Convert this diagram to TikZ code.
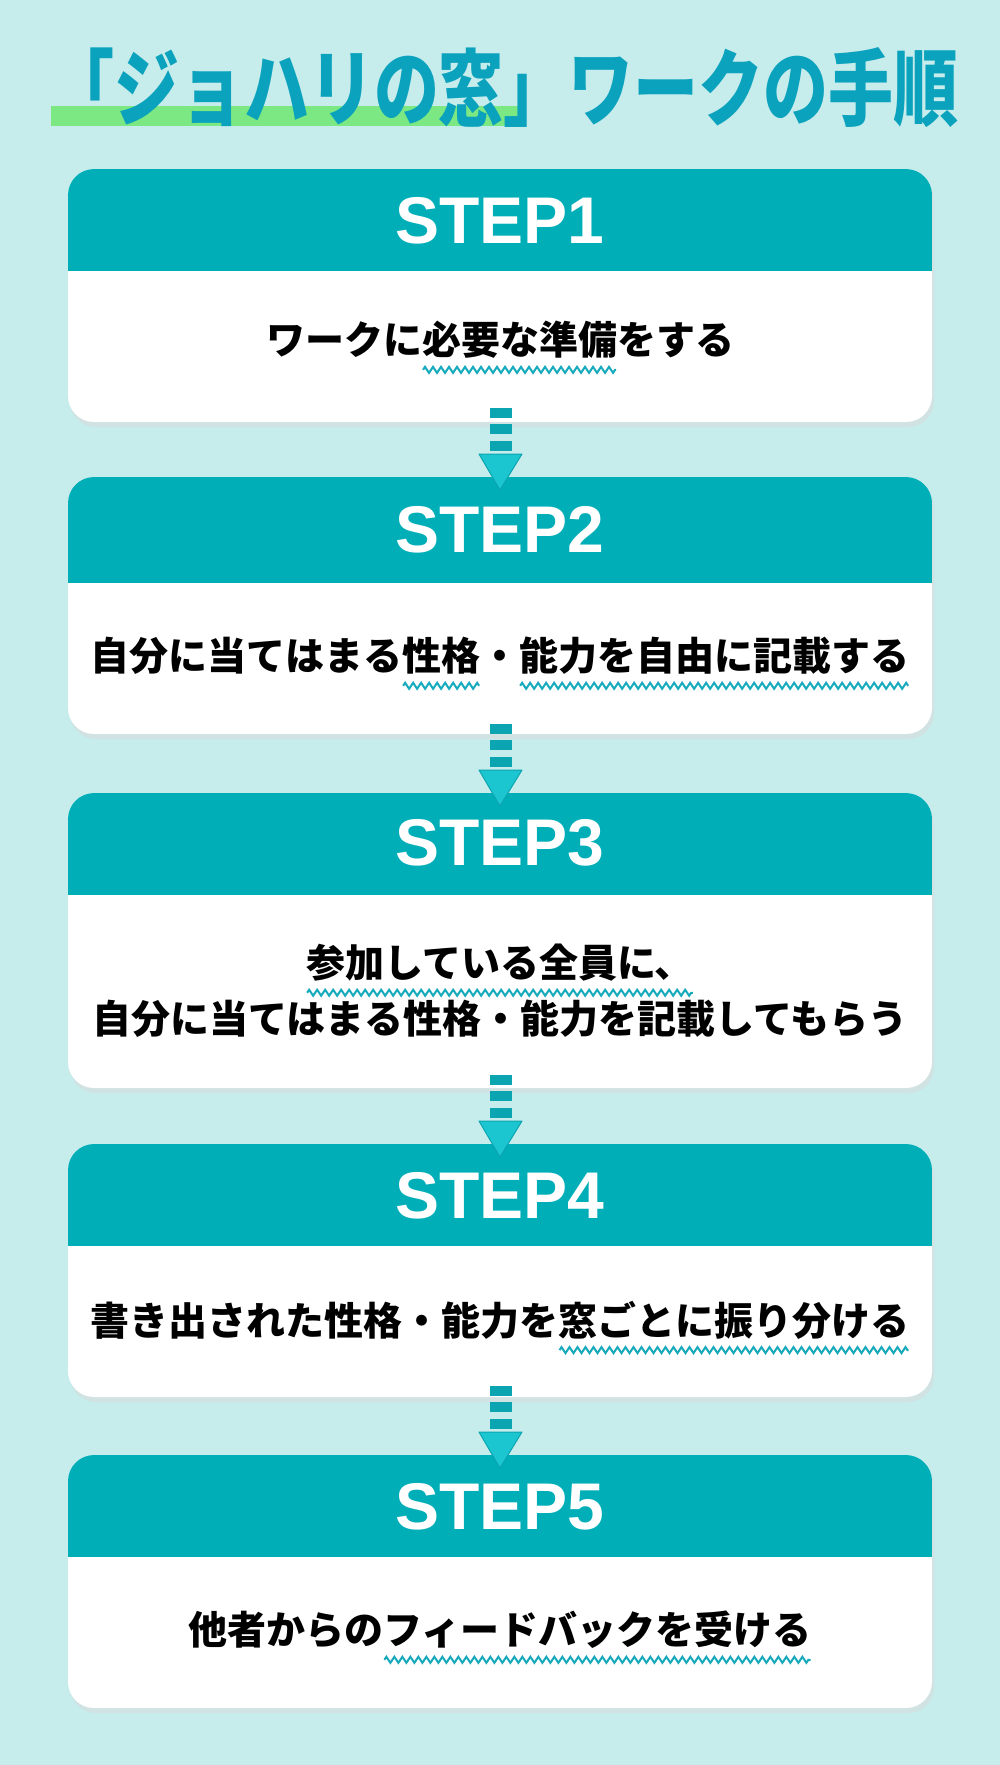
\documentclass[tikz,border=0pt]{standalone}
\usepackage{fontspec}
\setmainfont{Noto Sans CJK JP}
\newfontfamily\stepfont{Liberation Sans}
\usetikzlibrary{decorations.pathmorphing}
\definecolor{bg}{HTML}{C7ECEC}
\definecolor{teal}{HTML}{00AEB8}
\definecolor{titlec}{HTML}{0AA2BC}
\definecolor{hl}{HTML}{7CE883}
\definecolor{wavec}{HTML}{17A9BC}
\definecolor{arrowc}{HTML}{1CC6D0}
\definecolor{arrowd}{HTML}{0AA5B0}
\newsavebox\wvbox
\newcommand\wv[1]{\sbox\wvbox{#1}\leavevmode\rlap{\usebox\wvbox}%
\tikz[overlay,x=1pt,y=1pt,baseline=0pt]\draw[wavec,line width=2pt,decorate,decoration={zigzag,amplitude=3pt,segment length=8pt}] (1,-15)--(\wd\wvbox-1pt,-15);%
\hspace*{\wd\wvbox}}
\tikzset{
  bodytxt/.style={font=\bfseries\fontsize{39}{56}\selectfont,text=black,align=center,inner sep=0pt},
  steptxt/.style={font=\stepfont\bfseries\fontsize{66}{66}\selectfont,text=white,inner sep=0pt},
}
\newcommand\stepbox[4]{% name, top, headbottom, bottom
  \fill[black!15,opacity=.5,rounded corners=26pt] (70,#2+5) rectangle (934,#4+5);
  \fill[white,rounded corners=26pt] (68,#2) rectangle (932,#4);
  \begin{scope}
  \clip[rounded corners=26pt] (68,#2) rectangle (932,#4);
  \fill[teal] (68,#2) rectangle (932,#3);
  \end{scope}
  \coordinate (#1) at (500,#2);
}
\newcommand\arrowto[1]{% top of next box
  \foreach \d in {0,16,33}{\fill[arrowd] (490,#1-69+\d) rectangle (512,#1-59+\d);}
  \fill[arrowc,draw=arrowd,line width=1pt,line join=round] (479,#1-23) -- (522,#1-23) -- (500,#1+13) -- cycle;
}
\begin{document}
\begin{tikzpicture}[x=1pt,y=-1pt]
\fill[bg] (0,0) rectangle (1000,1765);
\useasboundingbox (0,0) rectangle (1000,1765);
% title
\fill[hl] (51,106) rectangle (523,126);
\node[font=\bfseries\fontsize{75}{75}\selectfont,text=titlec,inner sep=0pt] (title) at (504,88) {\resizebox{910pt}{72pt}{「ジョハリの窓」ワークの手順}};
% boxes
\stepbox{b1}{169}{271}{422}
\stepbox{b2}{477}{583}{734}
\stepbox{b3}{793}{895}{1088}
\stepbox{b4}{1144}{1246}{1397}
\stepbox{b5}{1455}{1557}{1708}
\node[steptxt] (s1) at (500,221) {STEP1};
\node[steptxt] (s2) at (500,530) {STEP2};
\node[steptxt] (s3) at (500,843) {STEP3};
\node[steptxt] (s4) at (500,1196) {STEP4};
\node[steptxt] (s5) at (500,1507) {STEP5};
\node[bodytxt] (t1) at (500,340) {ワークに\wv{必要な準備}をする};
\node[bodytxt] (t2) at (500,656) {自分に当てはまる\wv{性格}・\wv{能力を自由に記載する}};
\node[bodytxt] (t3) at (500,991) {\wv{参加している全員に、}\\自分に当てはまる性格・能力を記載してもらう};
\node[bodytxt] (t4) at (500,1320) {書き出された性格・能力を\wv{窓ごとに振り分ける}};
\node[bodytxt] (t5) at (500,1630) {他者からの\wv{フィードバックを受ける}};
% arrows
\arrowto{477}
\arrowto{793}
\arrowto{1144}
\arrowto{1455}
\end{tikzpicture}
\end{document}
